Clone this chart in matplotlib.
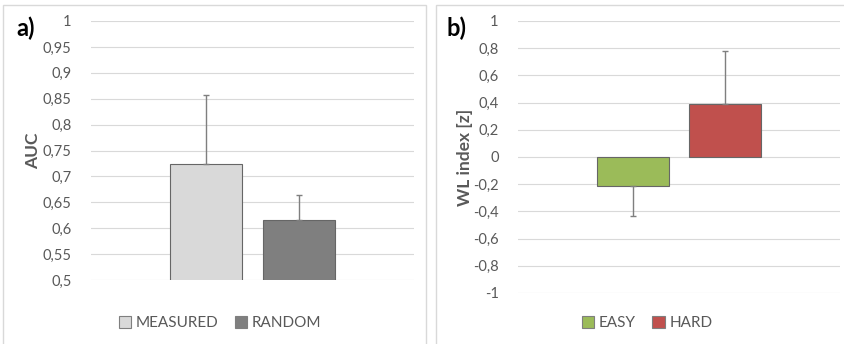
import matplotlib.pyplot as plt
from matplotlib.patches import Rectangle
from matplotlib.patches import Patch

plt.rcParams['font.family'] = ['Lato', 'DejaVu Sans']

# panel a
auc_names = ['MEASURED', 'RANDOM']
auc_vals = [0.723, 0.615]
auc_err = [0.135, 0.05]
auc_cols = ['#d9d9d9', '#7f7f7f']
auc_ticks = [0.5, 0.55, 0.6, 0.65, 0.7, 0.75, 0.8, 0.85, 0.9, 0.95, 1.0]

# panel b
wl_names = ['EASY', 'HARD']
wl_vals = [-0.215, 0.39]
wl_err = [0.22, 0.39]
wl_cols = ['#9bbb59', '#c0504d']
wl_ticks = [-1, -0.8, -0.6, -0.4, -0.2, 0, 0.2, 0.4, 0.6, 0.8, 1]

W, H = 845, 344
fig = plt.figure(figsize=(W / 100, H / 100), dpi=100)
fig.patch.set_facecolor('white')

# panel frames
for x0, x1 in [(3, 426), (436, 850)]:
    fig.patches.append(Rectangle((x0 / W, -0.05), (x1 - x0) / W, 1.05 - 5 / H,
                                 transform=fig.transFigure, fill=False,
                                 edgecolor='#d9d9d9', linewidth=1.0))


def fmt(v):
    s = ('%.2f' % v).rstrip('0').rstrip('.')
    if s in ('-0', ''):
        s = '0'
    return s.replace('.', ',')


def panel(px0, px1, py0, py1, names, vals, errs, cols, ticks, ylab, tag, tagx, labx, legx):
    ax = fig.add_axes([px0 / W, 1 - py1 / H, (px1 - px0) / W, (py1 - py0) / H])
    offs = [-0.1425, 0.1425]
    for o, v, e, c in zip(offs, vals, errs, cols):
        ax.bar(o, v, width=0.223, color=c, edgecolor='#666666', linewidth=0.8, zorder=3)
        yerr = [[0], [e]] if v >= 0 else [[e], [0]]
        ax.errorbar(o, v, yerr=yerr, fmt='none', ecolor='#7f7f7f', elinewidth=1,
                    capsize=2.5, capthick=1, zorder=4)
    ax.set_xlim(-0.5, 0.5)
    ax.set_ylim(ticks[0], ticks[-1])
    ax.set_yticks(ticks)
    ax.set_yticklabels([fmt(t) for t in ticks])
    ax.set_xticks([])
    ax.tick_params(axis='y', length=0, pad=14, labelsize=10.5, labelcolor='#595959')
    ax.grid(axis='y', color='#d9d9d9', linewidth=0.8, zorder=0)
    ax.set_axisbelow(True)
    for s in ax.spines.values():
        s.set_visible(False)
    fig.text(labx / W, 1 - ((py0 + py1) / 2) / H, ylab, rotation=90, ha='center',
             va='center', fontsize=12.5, fontweight='bold', color='#595959')
    fig.text(tagx / W, 1 - 28 / H, tag, ha='left', va='center', fontsize=17,
             fontweight='bold', color='black')
    handles = [Patch(facecolor=c, edgecolor='#7f7f7f', linewidth=0.8) for c in cols]
    fig.legend(handles, names, loc='center', bbox_to_anchor=(legx / W, 1 - 323 / H),
               ncol=2, frameon=False, fontsize=11, labelcolor='#595959',
               handlelength=0.8, handleheight=0.8, handletextpad=0.3, columnspacing=1.1)
    return ax


panel(91, 414, 21, 280, auc_names, auc_vals, auc_err, auc_cols, auc_ticks,
      'AUC', 'a)', 16, 33, 220)
panel(518, 840, 21, 293, wl_names, wl_vals, wl_err, wl_cols, wl_ticks,
      'WL index [z]', 'b)', 447, 465, 647)

plt.savefig('out.png', dpi=100)
